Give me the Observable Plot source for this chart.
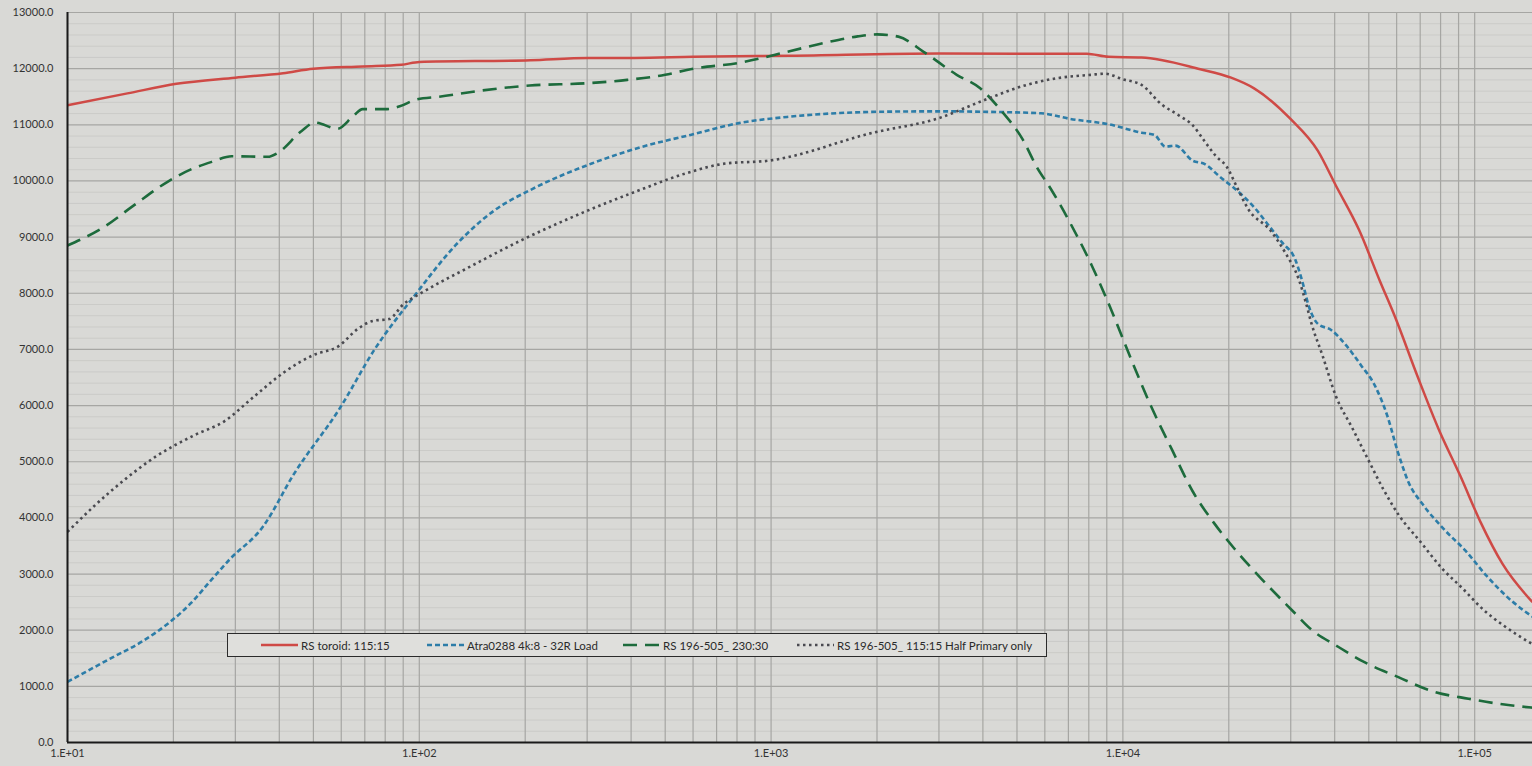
<!DOCTYPE html>
<html>
<head>
<meta charset="utf-8">
<script src="https://cdn.jsdelivr.net/npm/d3@7"></script>
<script src="https://cdn.jsdelivr.net/npm/@observablehq/plot@0.6"></script>
<style>
  html, body { margin: 0; padding: 0; background: #d9d9d6; overflow: hidden; }
  #wrap { position: relative; width: 1532px; height: 766px; }
  #legend {
    position: absolute; left: 227px; top: 633px; width: 818px; height: 22px;
    border: 1.5px solid #2b2b2b; background: #dfdfdc;
    font-family: Lato, "Open Sans", sans-serif; font-size: 11.5px; color: #2a2a2a;
  }
  .item { position: absolute; top: 0; height: 22px; display: flex; align-items: center; white-space: nowrap; }
  .item svg { margin-right: 3px; }
</style>
</head>
<body>
<div id="wrap">
  <div id="chart"></div>
  <div id="legend"></div>
</div>
<script>
// ---- Data ----
const seriesNames = ["RS toroid: 115:15", "Atra0288 4k:8 - 32R Load", "RS 196-505_ 230:30", "RS 196-505_ 115:15 Half Primary only"];

const redFreq = [10, 14.8, 20.4, 30, 41, 50, 69, 89, 100, 207, 302, 409, 600, 1135, 3000, 7900, 9100, 11300, 16600, 20300, 23600, 30000, 35800, 40300, 46900, 53800, 59200, 69000, 79000, 91000, 104000, 120000, 146000];
const redVal  = [11350, 11560, 11730, 11840, 11920, 12000, 12040, 12070, 12120, 12150, 12190, 12190, 12210, 12230, 12270, 12265, 12210, 12200, 11990, 11840, 11650, 11100, 10540, 9920, 9130, 8215, 7600, 6500, 5580, 4750, 3920, 3180, 2500];

const blueFreq = [10, 13.1, 16.3, 19.5, 22.5, 25.3, 28.8, 36, 44, 59.4, 74.8, 97, 127, 163, 210, 309, 425, 590, 810, 1130, 1570, 2180, 3040, 4200, 5850, 7100, 9100, 11300, 12300, 13200, 14100, 15800, 17100, 18900, 21100, 23700, 25800, 28300, 30900, 32300, 33800, 35900, 39000, 43000, 47500, 52000, 56500, 60500, 65000, 71000, 82000, 94000, 108000, 128000, 146000];
const blueVal  = [1080, 1480, 1800, 2140, 2490, 2855, 3250, 3850, 4780, 5950, 7010, 7960, 8860, 9470, 9860, 10310, 10600, 10820, 11030, 11145, 11210, 11235, 11240, 11230, 11205, 11105, 11010, 10860, 10820, 10610, 10630, 10360, 10300, 10070, 9830, 9520, 9230, 8910, 8600, 8230, 7760, 7450, 7350, 7080, 6720, 6360, 5810, 5170, 4620, 4250, 3790, 3420, 2970, 2510, 2240];

const greenFreq = [10, 12.7, 15.4, 19.3, 22.7, 25.7, 29.3, 37.1, 39.6, 46.3, 50.5, 58.5, 65, 69, 81, 88, 98, 114, 150, 206, 300, 390, 500, 590, 822, 1136, 1410, 1762, 2000, 2300, 2720, 3370, 3930, 4470, 5200, 5700, 6210, 7100, 8150, 9300, 10500, 12000, 13800, 15800, 18100, 20700, 24800, 30200, 34500, 40300, 48600, 60900, 76000, 96000, 120000, 146000];
const greenVal  = [8850, 9180, 9560, 9990, 10220, 10340, 10440, 10430, 10500, 10890, 11040, 10930, 11160, 11280, 11280, 11330, 11450, 11500, 11610, 11700, 11740, 11800, 11890, 11990, 12110, 12315, 12455, 12575, 12610, 12570, 12295, 11890, 11650, 11280, 10730, 10240, 9880, 9240, 8500, 7680, 6860, 6000, 5210, 4470, 3920, 3460, 2910, 2360, 2000, 1730, 1430, 1160, 910, 780, 680, 620];

const grayFreq = [10, 12, 14.6, 17.8, 22.9, 27.9, 33.9, 41.2, 50, 59, 67, 74, 82, 90, 103, 141, 193, 285, 420, 575, 740, 980, 1950, 3000, 4000, 5190, 6500, 8100, 8900, 10000, 11300, 12900, 14400, 15800, 17100, 18400, 19700, 21100, 22600, 26400, 28900, 31700, 33200, 34400, 36900, 40300, 44800, 49600, 55100, 61000, 70000, 80500, 92500, 106000, 121000, 146000];
const grayVal  = [3750, 4230, 4690, 5090, 5470, 5720, 6160, 6590, 6900, 7060, 7370, 7510, 7540, 7800, 8030, 8490, 8930, 9410, 9830, 10140, 10310, 10360, 10860, 11120, 11430, 11690, 11830, 11890, 11910, 11810, 11710, 11360, 11170, 10990, 10700, 10440, 10260, 9890, 9520, 9100, 8730, 8230, 7810, 7450, 6900, 6170, 5610, 5060, 4500, 4040, 3580, 3110, 2740, 2360, 2080, 1750];

const xTickValues = [10, 100, 1000, 10000, 100000];
const xTickLabels = ["1.E+01", "1.E+02", "1.E+03", "1.E+04", "1.E+05"];
const yTickValues = [0, 1000, 2000, 3000, 4000, 5000, 6000, 7000, 8000, 9000, 10000, 11000, 12000, 13000];
const yTickLabels = ["0.0", "1000.0", "2000.0", "3000.0", "4000.0", "5000.0", "6000.0", "7000.0", "8000.0", "9000.0", "10000.0", "11000.0", "12000.0", "13000.0"];

// ---- Styles ----
const styles = [
  {color: "#cf4a46", dash: null, width: 2.5},
  {color: "#2d7da8", dash: "5,3", width: 2.6},
  {color: "#1d6b3c", dash: "14,8", width: 2.6},
  {color: "#4a4a50", dash: "2.5,3.5", width: 2.6}
];

const toRows = (fs, vs, s) => fs.map((f, i) => ({f, v: vs[i], s}));
const lines = [
  toRows(redFreq, redVal, seriesNames[0]),
  toRows(blueFreq, blueVal, seriesNames[1]),
  toRows(greenFreq, greenVal, seriesNames[2]),
  toRows(grayFreq, grayVal, seriesNames[3])
];

const xDomain = [10, 146000];
const minorX = [];
for (const d of [10, 100, 1000, 10000, 100000]) for (let k = 1; k <= 9; k++) { const v = d * k; if (v <= xDomain[1]) minorX.push(v); }
const minorY = d3.range(0, 13001, 200).filter(v => v % 1000 !== 0);

const chart = Plot.plot({
  width: 1532, height: 766,
  marginLeft: 67, marginRight: 0, marginTop: 12, marginBottom: 24,
  style: {background: "#d9d9d6", fontFamily: "Lato, 'Open Sans', sans-serif", fontSize: "11px", color: "#333"},
  x: {type: "log", domain: xDomain},
  y: {domain: [0, 13000]},
  marks: [
    Plot.gridY(minorY, {stroke: "#cbcbc8", strokeOpacity: 1, strokeWidth: 1}),
    Plot.gridY(yTickValues, {stroke: "#a6a6a3", strokeOpacity: 1, strokeWidth: 1.2}),
    Plot.gridX(minorX, {stroke: "#a6a6a3", strokeOpacity: 1, strokeWidth: 1.2}),
    Plot.axisY({ticks: yTickValues, tickFormat: d => yTickLabels[yTickValues.indexOf(d)], tickSize: 0, tickPadding: 14, label: null}),
    Plot.axisX({ticks: xTickValues, tickFormat: d => xTickLabels[xTickValues.indexOf(d)], tickSize: 0, tickPadding: 7, label: null}),
    ...lines.map((rows, i) => Plot.line(rows, {
      x: "f", y: "v", curve: "monotone-x",
      stroke: styles[i].color, strokeWidth: styles[i].width,
      strokeDasharray: styles[i].dash, strokeLinecap: "butt", strokeLinejoin: "round"
    })),
    Plot.ruleX([xDomain[0]], {stroke: "#1a1a1a", strokeWidth: 2}),
    Plot.ruleY([0], {stroke: "#1a1a1a", strokeWidth: 2})
  ]
});
document.getElementById("chart").appendChild(chart);

// ---- Legend ----
const legendLeft = [33, 199, 395, 569];
const legend = document.getElementById("legend");
seriesNames.forEach((name, i) => {
  const st = styles[i];
  const item = document.createElement("div");
  item.className = "item";
  item.style.left = legendLeft[i] + "px";
  item.innerHTML = `<svg width="37" height="6"><line x1="0" y1="3" x2="37" y2="3" stroke="${st.color}" stroke-width="${st.width}" ${st.dash ? `stroke-dasharray="${st.dash}"` : ""}/></svg><span>${name}</span>`;
  legend.appendChild(item);
});
</script>
</body>
</html>
